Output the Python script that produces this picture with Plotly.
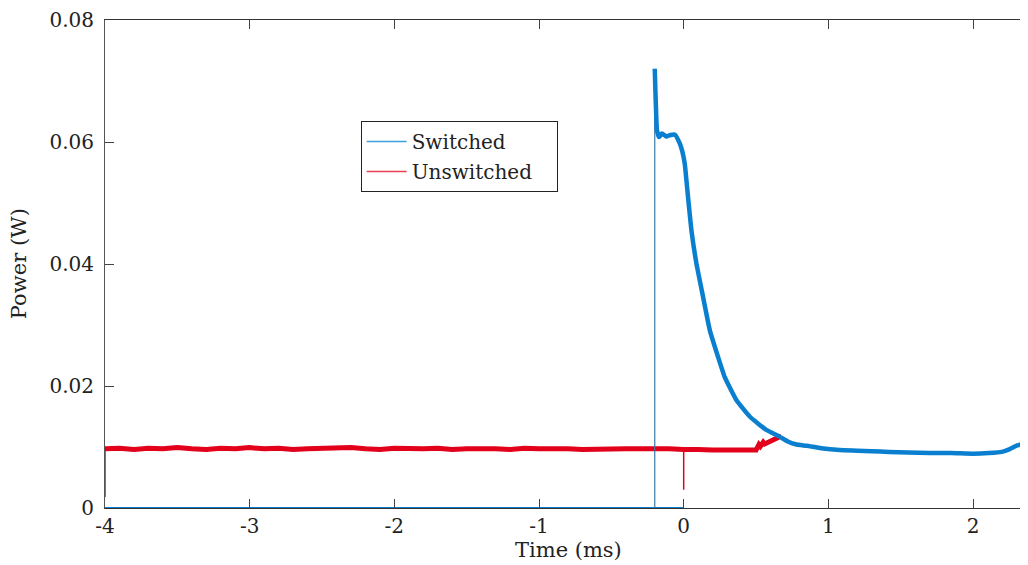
import plotly.graph_objects as go

# time in ms, power in W
switched_t = [-0.2, -0.195, -0.19, -0.185, -0.17, -0.15, -0.12, -0.097, -0.06, -0.028,
              -0.01, 0.007, 0.03, 0.053, 0.088, 0.134, 0.18, 0.237, 0.283, 0.364,
              0.456, 0.571, 0.663, 0.72, 0.78, 0.85, 0.95, 1.08, 1.2,
              1.3, 1.42, 1.55, 1.7, 1.85, 2.0, 2.11, 2.2, 2.25, 2.3, 2.35, 2.4]
switched_p = [0.072, 0.068, 0.0645, 0.062, 0.0608, 0.0614, 0.0609, 0.0611, 0.0612, 0.0598,
              0.0585, 0.0565, 0.0510, 0.0456, 0.0401, 0.0346, 0.0292, 0.0248, 0.0215, 0.0177,
              0.0150, 0.0128, 0.0117, 0.0109, 0.0104, 0.0102, 0.0098, 0.0095, 0.0094,
              0.0093, 0.0092, 0.0091, 0.0090, 0.0090, 0.0089, 0.0090, 0.0092, 0.0096, 0.0102, 0.0106, 0.0112]
spike_t = [-0.2, -0.2]
spike_p = [0.0, 0.072]
switched_base_t = [-4.0, 0.0]
switched_base_p = [0.0, 0.0]

unswitched_t = [-4.0, -3.9, -3.8, -3.7, -3.6, -3.5, -3.4, -3.3, -3.2, -3.1,
                -3.0, -2.9, -2.8, -2.7, -2.6, -2.5, -2.4, -2.3, -2.2, -2.1,
                -2.0, -1.9, -1.8, -1.7, -1.6, -1.5, -1.4, -1.3, -1.2, -1.1,
                -1.0, -0.9, -0.8, -0.7, -0.6, -0.5, -0.4, -0.3, -0.2, -0.1,
                0.0, 0.05, 0.1, 0.2, 0.3, 0.4, 0.5, 0.52, 0.53, 0.55, 0.56, 0.6, 0.675]
unswitched_p = [0.0097, 0.0098, 0.0096, 0.0098, 0.0097, 0.0099, 0.0097, 0.0096, 0.0098, 0.0097,
                0.0099, 0.0097, 0.0098, 0.0096, 0.0097, 0.0098, 0.0097, 0.0099, 0.0097, 0.0096,
                0.0098, 0.0097, 0.0097, 0.0098, 0.0096, 0.0097, 0.0098, 0.0097, 0.0096, 0.0098,
                0.0097, 0.0098, 0.0097, 0.0096, 0.0097, 0.0098, 0.0097, 0.0097, 0.0098, 0.0097,
                0.0096, 0.0095, 0.0096, 0.0095, 0.0096, 0.0095, 0.0095, 0.0104, 0.0101, 0.0108, 0.0105, 0.0109, 0.0118]
start_t = [-4.0, -4.0]
start_p = [0.0018, 0.0098]
dip_t = [0.0, 0.0]
dip_p = [0.0097, 0.003]

x_ticks = [-4, -3, -2, -1, 0, 1, 2]
x_labels = ["-4", "-3", "-2", "-1", "0", "1", "2"]
y_ticks = [0, 0.02, 0.04, 0.06, 0.08]
y_labels = ["0", "0.02", "0.04", "0.06", "0.08"]

BLUE = "#0a7fd0"
RED = "#e2001a"
FONT = "DejaVu Serif"

fig = go.Figure()
fig.add_trace(go.Scatter(x=switched_base_t, y=switched_base_p, mode="lines",
                         line=dict(color=BLUE, width=2), showlegend=False))
fig.add_trace(go.Scatter(x=unswitched_t, y=unswitched_p, mode="lines",
                         line=dict(color=RED, width=5), showlegend=False))
fig.add_trace(go.Scatter(x=start_t, y=start_p, mode="lines",
                         line=dict(color=RED, width=1.5), showlegend=False))
fig.add_trace(go.Scatter(x=dip_t, y=dip_p, mode="lines",
                         line=dict(color=RED, width=1.5), showlegend=False))
fig.add_trace(go.Scatter(x=spike_t, y=spike_p, mode="lines",
                         line=dict(color="#3a78a8", width=1.2), showlegend=False))
fig.add_trace(go.Scatter(x=switched_t, y=switched_p, mode="lines",
                         line=dict(color=BLUE, width=4.5, shape="spline", smoothing=0.4),
                         showlegend=False))
# legend entries with thin line samples
fig.add_trace(go.Scatter(x=[None], y=[None], mode="lines", name="Switched",
                         legendgroup="a", line=dict(color="#3d9ee0", width=1.5)))
fig.add_trace(go.Scatter(x=[None], y=[None], mode="lines", name="Unswitched\u00a0\u00a0\u00a0",
                         legendgroup="b", line=dict(color="#e8404f", width=1.5)))

fig.update_xaxes(
    range=[-4, 2.38], tickvals=x_ticks, ticktext=x_labels,
    ticks="inside", ticklen=9, tickcolor="#444", tickwidth=1,
    showline=True, linecolor="#333", linewidth=1, mirror="ticks",
    showgrid=False, zeroline=False, automargin=False,
    tickfont=dict(size=20, color="#222"),
)
fig.update_yaxes(
    range=[0, 0.08], tickvals=y_ticks, ticktext=y_labels,
    ticks="inside", ticklen=9, tickcolor="#444", tickwidth=1,
    showline=True, linecolor="#555", linewidth=1,
    showgrid=False, zeroline=False, automargin=False,
    ticklabelstandoff=6,
    tickfont=dict(size=20, color="#222"),
)
# axis titles as annotations so they sit where the reference has them
fig.add_annotation(text="Time (ms)", xref="paper", yref="paper", x=0.502, y=-0.086,
                   xanchor="center", yanchor="middle", showarrow=False,
                   font=dict(size=21, color="#222"))
fig.add_annotation(text="Power (W)", xref="paper", yref="paper", x=-0.093, y=0.5,
                   xanchor="center", yanchor="middle", showarrow=False, textangle=-90,
                   font=dict(size=21, color="#222"))
# the page body adds an 8px offset, so the figure is 8px smaller and margins shifted
fig.update_layout(
    width=1020, height=557,
    margin=dict(l=97, r=0, t=12, b=57),
    paper_bgcolor="white", plot_bgcolor="white",
    font=dict(family=FONT, size=18, color="#222"),
    showlegend=True,
    legend=dict(x=0.277, y=0.793, xanchor="left", yanchor="top",
                bgcolor="white", bordercolor="#222", borderwidth=1,
                font=dict(size=20), traceorder="grouped", tracegroupgap=1,
                itemwidth=40),
)
fig.write_html("out.html")
